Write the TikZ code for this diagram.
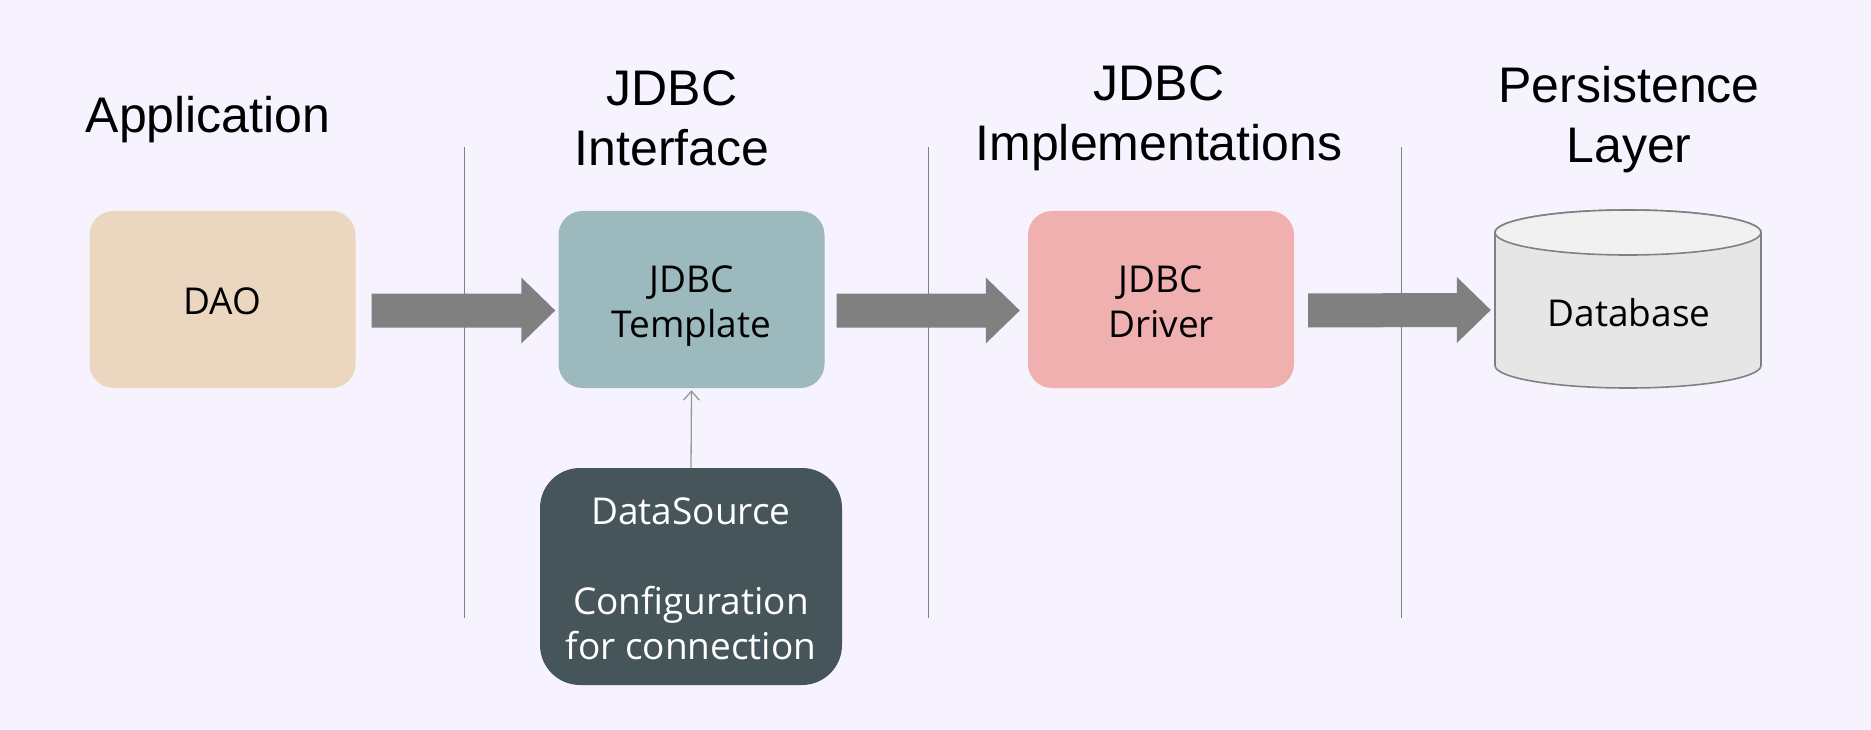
\documentclass[tikz,border=0pt]{standalone}
\usepackage{fontspec}
\setmainfont{Liberation Sans}
\newfontfamily\boxfont{Open Sans}
\usetikzlibrary{calc,arrows.meta}
\definecolor{bgc}{HTML}{F6F3FE}
\definecolor{daoc}{HTML}{EBD7BF}
\definecolor{tplc}{HTML}{9CBABE}
\definecolor{drvc}{HTML}{F0B0B0}
\definecolor{dsc}{HTML}{465559}
\definecolor{arrc}{HTML}{808080}
\definecolor{dbside}{HTML}{E6E6E6}
\definecolor{dbtop}{HTML}{F1F1F1}
\tikzset{
  layer/.style={font=\fontsize{50}{60}\selectfont, align=center, inner sep=0pt},
  comp/.style={rounded corners=24pt, minimum width=266pt, minimum height=177pt,
    inner sep=0pt},
  comptext/.style={inner sep=0pt, align=center, font=\boxfont\fontsize{37}{45}\selectfont},
  sep/.style={draw=arrc, line width=0.9pt},
  bigarrow/.style={fill=arrc, draw=none},
}
% block arrow from node #1 to node #2 (start gap #3, tip gap #4)
\newcommand{\blockarrow}[4]{%
  \fill[bigarrow] ($(#1.east)+(#3,11)$) coordinate (s)
    -- ++(0,-17) -- ($(#2.west)+(-34-#4,-6)$) -- ++(0,-16) -- ($(#2.west)+(-#4,11)$)
    -- ($(#2.west)+(-34-#4,44)$) -- ++(0,-16) -- ($(s)+(0,17)$) -- cycle;}
\begin{document}
\begin{tikzpicture}[x=1pt,y=-1pt]
\useasboundingbox (0,0) rectangle (1871,730);
\fill[bgc] (0,0) rectangle (1871,730);

% layer headings
\node[layer] (happ) at (208,120) {Application};
\node[layer] (hint) at (672,118) {JDBC\\Interface};
\node[layer] (himp) at (1159,118) {JDBC\\Implementations};
\node[layer] (hper) at (1629,120) {Persistence\\Layer};

% separators between layers
\coordinate (s1t) at (464,147); \coordinate (s1b) at (464,618);
\coordinate (s2t) at (928,147); \coordinate (s2b) at (928,618);
\coordinate (s3t) at (1401,147); \coordinate (s3b) at (1401,618);
\draw[sep] (s1t) -- (s1b);
\draw[sep] (s2t) -- (s2b);
\draw[sep] (s3t) -- (s3b);

% components
\node[comp, fill=daoc] (dao) at (222.5,299.5) {};
\node[comp, fill=tplc] (tpl) at (691.5,299.5) {};
\node[comp, fill=drvc] (drv) at (1161,299.5) {};
\node[comp, fill=dsc, rounded corners=40pt, minimum width=302pt,
  minimum height=217pt] (ds) at (691,576.5) {};
\node[comptext] (daot) at ($(dao)+(0,6)$) {\strut DAO};
\node[comptext] (tplt) at ($(tpl)+(0,6)$) {\strut JDBC\\\strut Template};
\node[comptext] (drvt) at ($(drv)+(0,6)$) {\strut JDBC\\\strut Driver};
\node[comptext, text=white] (dst) at ($(ds)+(0,6)$)
  {\strut DataSource\\\strut\\\strut Configuration\\\strut for connection};

% database cylinder
\node[minimum width=266pt, minimum height=178pt, inner sep=0pt] (db) at (1628,299) {};
\fill[dbside, draw=arrc, line width=1.6pt]
  (1495,232.5) -- (1495,365.5) arc[start angle=180, end angle=0, x radius=133, y radius=22.5]
  -- (1761,232.5) arc[start angle=0, end angle=-180, x radius=133, y radius=22.5] -- cycle;
\fill[dbtop, draw=arrc, line width=1.6pt] (1628,232.5) ellipse[x radius=133, y radius=22.5];
\node[comptext] (dbt) at (1629,317) {\strut Database};

% data flow
\blockarrow{dao}{tpl}{16}{3}
\blockarrow{tpl}{drv}{12}{8}
\blockarrow{drv}{db}{14}{4}

% configuration link
\draw[draw=arrc!80, line width=1.3pt, -{Straight Barb[length=9pt, width=16pt]}] (ds.north) -- ($(tpl.south)+(0,2)$);
\end{tikzpicture}
\end{document}
